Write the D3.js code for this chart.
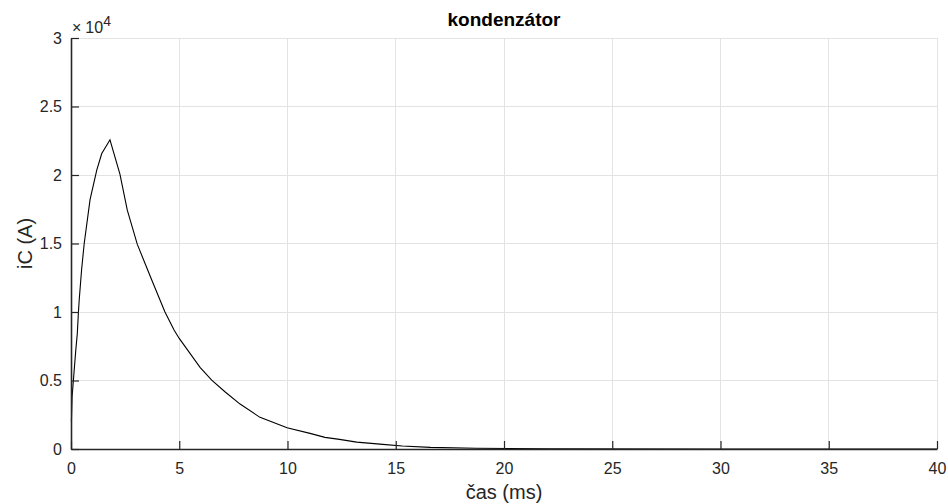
<!DOCTYPE html>
<html>
<head>
<meta charset="utf-8">
<script src="https://cdn.jsdelivr.net/npm/d3@7/dist/d3.min.js"></script>
<style>
  html, body { margin: 0; padding: 0; background: #fff; }
  svg { display: block; font-family: "Liberation Sans", Arial, Helvetica, sans-serif; }
</style>
</head>
<body>
<svg id="chart" width="948" height="504"></svg>
<script>
// Capacitor current iC (A) over time (ms)
const timeMs = [0.02, 0.05, 0.14, 0.22, 0.29, 0.34, 0.38, 0.49, 0.61, 0.88, 1.19, 1.42, 1.65, 1.80,
  2.26, 2.60, 3.06, 3.73, 4.34, 4.76, 5.0, 5.96, 6.5, 7.11, 7.81, 8.73, 9.98, 11.04, 11.73,
  12.4, 13.2, 14.4, 15.3, 16.6, 18.7, 22, 30, 40];
const currentA = [2000, 3800, 5600, 7200, 8400, 9900, 10900, 13100, 15000, 18200, 20350, 21570, 22170, 22570,
  20060, 17430, 14950, 12330, 10000, 8680, 8070, 5960, 5030, 4180, 3280, 2310, 1550, 1140, 850,
  700, 500, 340, 220, 120, 50, 20, 5, 1];
const xTicks = [0, 5, 10, 15, 20, 25, 30, 35, 40];
const yTicks = [0, 5000, 10000, 15000, 20000, 25000, 30000];

const margin = { left: 71, right: 11, top: 38, bottom: 55 };
const W = 948, H = 504;
const svg = d3.select("#chart");

const x = d3.scaleLinear().domain([0, 40]).range([margin.left, W - margin.right]);
const y = d3.scaleLinear().domain([0, 30000]).range([H - margin.bottom, margin.top]);

const textColor = "#262626";
const gridColor = "#e3e3e3";
const tickLen = 8;
const cx = (x(0) + x(40)) / 2;

// grid
const grid = svg.append("g");
grid.selectAll(".gx").data(xTicks.slice(1)).join("line")
  .attr("x1", d => x(d)).attr("x2", d => x(d))
  .attr("y1", y(0)).attr("y2", y(30000))
  .attr("stroke", gridColor).attr("stroke-width", 1).attr("shape-rendering", "crispEdges");
grid.selectAll(".gy").data(yTicks.slice(1)).join("line")
  .attr("x1", x(0)).attr("x2", x(40))
  .attr("y1", d => y(d)).attr("y2", d => y(d))
  .attr("stroke", gridColor).attr("stroke-width", 1).attr("shape-rendering", "crispEdges");

// curve
const line = d3.line().x((d, i) => x(timeMs[i])).y(d => y(d));
svg.append("path")
  .datum(currentA)
  .attr("d", line)
  .attr("fill", "none")
  .attr("stroke", "#000")
  .attr("stroke-width", 1.1)
  .attr("stroke-linejoin", "miter");

// axes (ticks pointing inward)
const xAxis = d3.axisBottom(x).tickValues(xTicks).tickFormat(d3.format("d"))
  .tickSizeInner(-tickLen).tickSizeOuter(0).tickPadding(14);
const gx = svg.append("g").attr("transform", `translate(0,${y(0)})`).call(xAxis);
gx.select(".domain").attr("stroke", textColor).attr("stroke-width", 1.6);
gx.selectAll(".tick line").attr("stroke", textColor).attr("stroke-width", 1.2);
gx.selectAll(".tick text").attr("fill", textColor).attr("font-size", 16)
  .attr("font-family", "Liberation Sans, Arial, sans-serif");

const yAxis = d3.axisLeft(y).tickValues(yTicks).tickFormat(d => d3.format("~g")(d / 1e4))
  .tickSizeInner(-tickLen).tickSizeOuter(0).tickPadding(9);
const gy = svg.append("g").attr("transform", `translate(${x(0)},0)`).call(yAxis);
gy.select(".domain").attr("stroke", textColor).attr("stroke-width", 1.6);
gy.selectAll(".tick line").attr("stroke", textColor).attr("stroke-width", 1.2);
gy.selectAll(".tick text").attr("fill", textColor).attr("font-size", 16)
  .attr("font-family", "Liberation Sans, Arial, sans-serif");

// exponent marker
const expo = svg.append("text").attr("x", x(0) + 1).attr("y", 33)
  .attr("fill", textColor).attr("font-size", 16);
expo.append("tspan").text("×");
expo.append("tspan").attr("dx", 4).text("10");
expo.append("tspan").attr("font-size", 14).attr("dy", -7).text("4");

// title
svg.append("text").attr("x", cx).attr("y", 26)
  .attr("text-anchor", "middle").attr("font-weight", "bold").attr("font-size", 19)
  .attr("fill", "#000").text("kondenzátor");

// axis labels
svg.append("text").attr("x", cx).attr("y", 499)
  .attr("text-anchor", "middle").attr("font-size", 20).attr("fill", textColor)
  .text("čas (ms)");
svg.append("text").attr("transform", `translate(32,${(y(0) + y(30000)) / 2}) rotate(-90)`)
  .attr("text-anchor", "middle").attr("font-size", 20).attr("fill", textColor)
  .text("iC (A)");
</script>
</body>
</html>
